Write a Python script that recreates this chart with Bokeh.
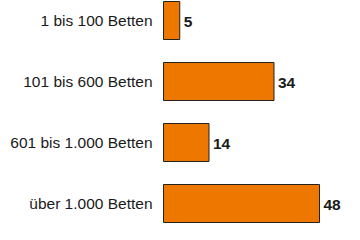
from bokeh.plotting import figure
from bokeh.models import ColumnDataSource, Range1d
from bokeh.core.properties import value
from bokeh.embed import file_html
from bokeh.resources import INLINE

categories = ["1 bis 100 Betten", "101 bis 600 Betten", "601 bis 1.000 Betten", "über 1.000 Betten"]
values = [5, 34, 14, 48]

n = len(categories)
ypos = [n - 1 - i for i in range(n)]
src = ColumnDataSource(dict(cat=categories, val=values, y=ypos,
                            lbl=[str(v) for v in values]))

W, H = 344, 224
bar_left_px = 163
px_per_unit = 3.25
row_px = 61
bottom_center_px = 21

p = figure(width=W, height=H, output_backend="svg", toolbar_location=None,
           x_range=Range1d(-bar_left_px / px_per_unit, (W - bar_left_px) / px_per_unit),
           y_range=Range1d(-bottom_center_px / row_px, -bottom_center_px / row_px + H / row_px),
           min_border=0, outline_line_color=None)
p.axis.visible = False
p.grid.visible = False
p.background_fill_color = "white"
p.border_fill_color = "white"

p.hbar(y="y", left=0, right="val", height=38 / row_px, source=src,
       fill_color="#EE7700", line_color="#222222", line_width=1)

p.text(x=0, y="y", text="cat", source=src, x_offset=-11,
       text_align="right", text_baseline="middle",
       text_font=value("Liberation Sans"), text_font_size="15.5px", text_color="#1a1a1a")

p.text(x="val", y="y", text="lbl", source=src, x_offset=4, y_offset=1,
       text_align="left", text_baseline="middle",
       text_font=value("Liberation Sans"), text_font_size="15.5px",
       text_font_style="bold", text_color="#1a1a1a")

open("out.html", "w").write(file_html(p, INLINE))
